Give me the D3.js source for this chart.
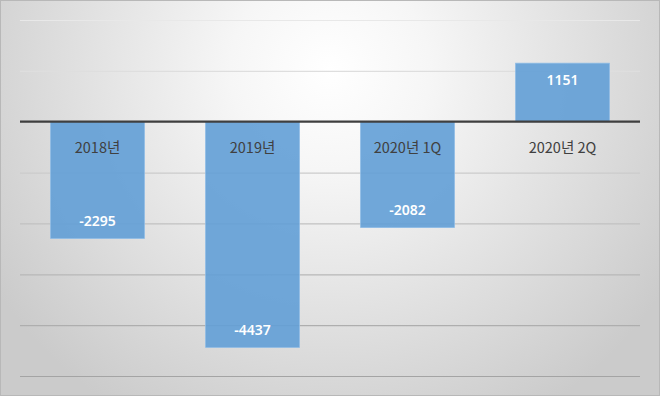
<!DOCTYPE html>
<html>
<head>
<meta charset="utf-8">
<script src="https://cdn.jsdelivr.net/npm/d3@7"></script>
<style>
  html, body { margin: 0; padding: 0; background: #fff; }
  svg { display: block; }
</style>
</head>
<body>
<div class="chart"></div>
<script>
const categories = ["2018년", "2019년", "2020년 1Q", "2020년 2Q"];
const values = [-2295, -4437, -2082, 1151];
const yTicks = [-5000, -4000, -3000, -2000, -1000, 0, 1000, 2000];

const W = 660;
const H = 396;
const margin = { top: 20, right: 20, bottom: 20, left: 20 };

const svg = d3.select('.chart')
  .append('svg')
  .attr('width', W)
  .attr('height', H);

// background: soft radial gradient like the original
const defs = svg.append('defs');
const grad = defs.append('radialGradient')
  .attr('id', 'bg')
  .attr('gradientUnits', 'userSpaceOnUse')
  .attr('cx', 330).attr('cy', 70).attr('r', 400);
grad.append('stop').attr('offset', '0%').attr('stop-color', '#ffffff');
grad.append('stop').attr('offset', '25%').attr('stop-color', '#f6f6f6');
grad.append('stop').attr('offset', '100%').attr('stop-color', '#cbcbcb');

svg.append('rect')
  .attr('width', W).attr('height', H)
  .attr('fill', 'url(#bg)');

svg.append('rect')
  .attr('x', 0.5).attr('y', 0.5)
  .attr('width', W - 1).attr('height', H - 1)
  .attr('fill', 'none')
  .attr('stroke', '#b8b8b8');

const xScale = d3.scaleBand()
  .domain(categories)
  .range([margin.left, W - margin.right])
  .paddingInner(0.395)
  .paddingOuter(0.1975);

const yScale = d3.scaleLinear()
  .domain([-5000, 2000])
  .range([H - margin.bottom, margin.top]);

const gridColor = d3.scaleLinear()
  .domain([margin.top, H - margin.bottom])
  .range(['#e8e8e8', '#a4a4a4']);

// gridlines
const yAxis = d3.axisLeft(yScale)
  .tickValues(yTicks.filter(d => d !== 0))
  .tickSize(-(W - margin.left - margin.right))
  .tickFormat('');

const gridG = svg.append('g')
  .attr('transform', `translate(${margin.left},0)`)
  .call(yAxis);
gridG.select('.domain').remove();
gridG.selectAll('.tick line')
  .attr('stroke', d => gridColor(yScale(d)))
  .attr('stroke-width', 1.2);

// bars
svg.append('g')
  .selectAll('rect')
  .data(values)
  .join('rect')
  .attr('x', (d, i) => xScale(categories[i]))
  .attr('width', xScale.bandwidth())
  .attr('y', d => yScale(Math.max(0, d)))
  .attr('height', d => Math.abs(yScale(d) - yScale(0)))
  .attr('fill', '#629fd6')
  .attr('fill-opacity', 0.9)
  .attr('stroke', '#8dbbe6')
  .attr('stroke-width', 0.8);

// zero line
svg.append('line')
  .attr('x1', margin.left)
  .attr('x2', W - margin.right)
  .attr('y1', yScale(0))
  .attr('y2', yScale(0))
  .attr('stroke', '#3f3f3f')
  .attr('stroke-width', 2.2);

// category labels
svg.append('g')
  .selectAll('text')
  .data(categories)
  .join('text')
  .attr('x', d => xScale(d) + xScale.bandwidth() / 2)
  .attr('y', yScale(0) + 26)
  .attr('dy', '0.35em')
  .attr('text-anchor', 'middle')
  .attr('font-family', '"Noto Sans CJK KR", "Noto Sans", sans-serif')
  .attr('font-size', 14.5)
  .attr('fill', '#404040')
  .text(d => d);

// value labels
svg.append('g')
  .selectAll('text')
  .data(values)
  .join('text')
  .attr('x', (d, i) => xScale(categories[i]) + xScale.bandwidth() / 2)
  .attr('y', d => d < 0 ? yScale(d) - 17 : yScale(d) + 17)
  .attr('dy', '0.35em')
  .attr('text-anchor', 'middle')
  .attr('font-family', '"Noto Sans", sans-serif')
  .attr('font-size', 14)
  .attr('font-weight', 600)
  .attr('fill', '#ffffff')
  .text(d => d);
</script>
</body>
</html>
